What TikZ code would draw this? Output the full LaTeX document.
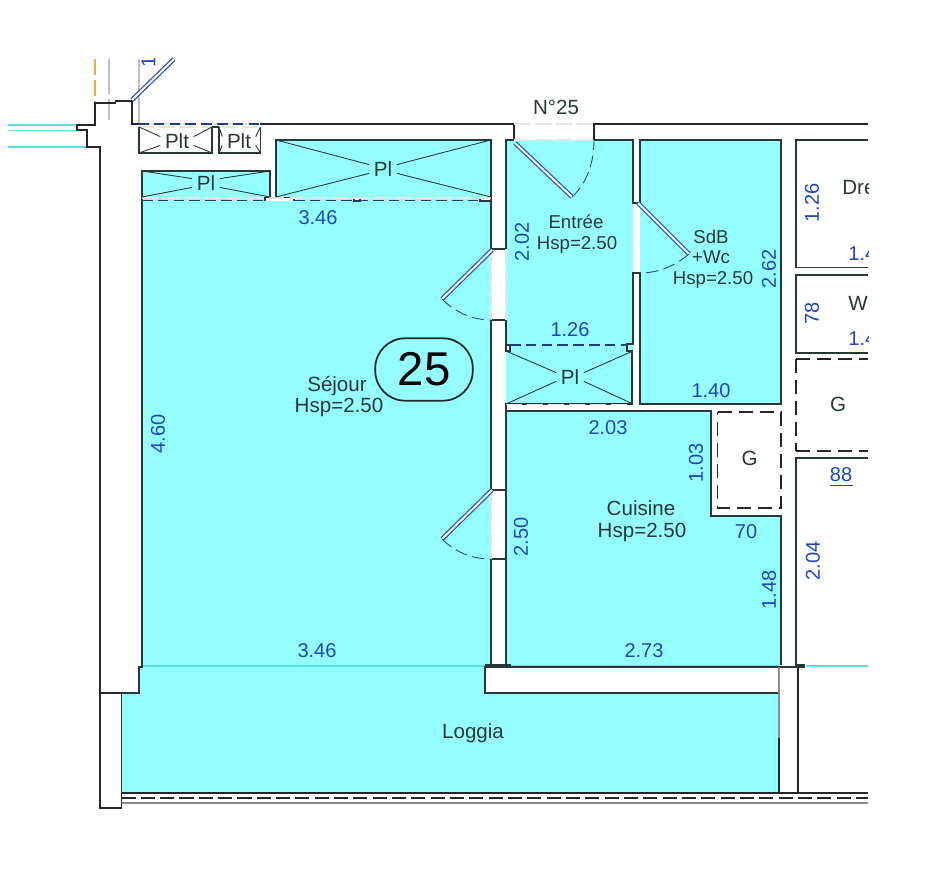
\documentclass[tikz,border=0pt]{standalone}
\usepackage{xcolor}
\usepackage{fontspec}
\setmainfont{Liberation Sans}
\usepackage{tikz}
\definecolor{roomcyan}{HTML}{95FFFF}
\definecolor{glasscyan}{HTML}{5FDCDC}
\definecolor{walldark}{HTML}{263838}
\definecolor{dimblue}{HTML}{1F45C0}
\definecolor{leafblue}{HTML}{2F55C0}
\tikzset{
    wall/.style={draw=walldark, line width=0.85pt},
    wallblack/.style={draw=black!85, line width=0.85pt},
    xline/.style={draw=walldark, line width=0.5pt},
    glass/.style={draw=glasscyan, line width=0.7pt},
    edgegray/.style={draw=black!10, line width=0.7pt, dash pattern=on 9pt off 3pt},
    edgeblue/.style={draw=leafblue!70!black, line width=0.6pt, dash pattern=on 6pt off 3pt},
    hidden/.style={draw=black!85, line width=0.65pt, dash pattern=on 8pt off 4pt},
    leaf/.style={draw=leafblue, line width=0.75pt, double=white, double distance=1.1pt},
    swing/.style={draw=leafblue!80!black, line width=0.5pt, dash pattern=on 7pt off 3pt},
    room/.style={font=\fontsize{11.7}{13}\selectfont, text=walldark, inner sep=0pt},
    roomsmall/.style={font=\fontsize{10.6}{12}\selectfont, text=walldark, inner sep=0pt},
    fix/.style={font=\fontsize{11.7}{13}\selectfont, text=walldark, inner xsep=2.5pt, inner ysep=1.5pt},
    dim/.style={font=\fontsize{11.4}{13}\selectfont, text=dimblue, inner sep=0pt},
    dimup/.style={dim, rotate=90},
}
\begin{document}
\begin{tikzpicture}[x=0.02cm, y=-0.02cm]
    \useasboundingbox (0,0) rectangle (942,878);

    % rooms
    \fill[roomcyan] (142,171) rectangle (270,197);
    \fill[roomcyan] (276,140) rectangle (491,197);
    \fill[roomcyan] (142,197) -- (491,197) -- (491,665) -- (485,667) -- (485,693) -- (779,693) -- (779,793)
        -- (121.5,793) -- (121.5,693) -- (139,693) -- (139,667) -- (142,665) -- cycle;
    \fill[roomcyan] (506,140) rectangle (633,404);
    \fill[roomcyan] (640,140) rectangle (781,404);
    \fill[roomcyan] (506,411) -- (711,411) -- (711,516) -- (781,516) -- (781,666) -- (506,666) -- cycle;

    % glass
    \draw[glass] (8,125) -- (77,125);
    \draw[glass] (8,130.5) -- (77,130.5);
    \draw[glass] (8,147) -- (87,147);
    \draw[glass, line width=1pt] (142,666) -- (485,666);
    \draw[glass, line width=1pt] (511,666) -- (778,666);
    \draw[glass, line width=1.4pt] (806,666) -- (868,666);

    % axes at top left
    \draw[draw=orange!70, line width=0.7pt, dash pattern=on 9pt off 3pt] (95,59) -- (95,103);
    \draw[draw=black!25, line width=0.7pt, dash pattern=on 20pt off 3pt] (109,59) -- (109,120);
    \draw[draw=black!25, line width=0.7pt] (139,59) -- (139,124);

    % outer walls
    \draw[wallblack] (100,693) -- (100,147) -- (87,147) -- (87,130) -- (77,130) -- (77,125) -- (95,125)
        -- (95,103) -- (115.5,103) -- (115.5,101) -- (132,101) -- (132,124) -- (139,124);
    \draw[wallblack] (260,124) -- (514,124) -- (514,140);
    \draw[wallblack] (594,140) -- (594,124) -- (868,124);
    \draw[wallblack] (100,693) -- (100,808) -- (121.5,808) -- (121.5,793);
    \draw[wallblack] (139,693) -- (100,693);
    \draw[wallblack] (121.5,793) -- (868,793);
    \draw[wallblack, dash pattern=on 8pt off 3pt] (121.5,798) -- (868,798);
    \draw[draw=black!45, line width=0.85pt] (121.5,803) -- (868,803);

    % inner walls
    \draw[wall] (121.5,793) -- (121.5,693) -- (139,693) -- (139,667) -- (142,667) -- (142,171) -- (270,171) -- (270,197);
    \draw[wall] (276,197) -- (276,140) -- (491,140) -- (491,249) -- (506,249) -- (506,140) -- (514,140);
    \draw[wall] (491,490) -- (491,320) -- (506,320) -- (506,345);
    \draw[wall] (491,490) -- (506,490) -- (506,404) -- (633,404);
    \draw[wall] (506,559) -- (491,559) -- (491,665);
    \draw[wall] (506,559) -- (506,411) -- (711,411) -- (711,516) -- (781,516) -- (781,665);
    \draw[wall] (506,559) -- (506,665);
    \draw[wall, fill=white] (485,667) rectangle (779,693);
    \draw[wall] (485,665) -- (511,665);
    \draw[wall] (594,140) -- (633,140) -- (633,203) -- (640,203) -- (640,140) -- (781,140) -- (781,404) -- (640,404)
        -- (640,273) -- (633,273) -- (633,344) -- (627,344) -- (627,351) -- (632,351) -- (632,404);
    \draw[wall, fill=white] (506,345) rectangle (510,351);
    \fill[white] (265,197.5) rectangle (294,201);
    \draw[wall] (265,201) -- (265,197.5) -- (270,197.5);
    \draw[wall] (276,197.5) -- (294,197.5) -- (294,201);
    \draw[wall, fill=white] (354,197.5) rectangle (360,201);
    \draw[wall, fill=white] (480,201) -- (480,197.5) -- (491,197.5) -- (491,201) -- cycle;
    \draw[wall] (868,140) -- (796,140) -- (796,267.5) -- (868,267.5);
    \draw[wall] (868,275) -- (796,275) -- (796,353) -- (868,353);
    \draw[wall] (868,458) -- (796,458) -- (796,665) -- (805,665);
    \draw[wall] (778,667) -- (805,667);
    \draw[draw=black!45, line width=0.85pt] (779,667) -- (779,738);
    \draw[wallblack] (779,738) -- (779,793);
    \draw[wallblack] (798,667) -- (798,793);

    % dashed edges
    \draw[edgegray] (138,127) -- (260,127);
    \draw[edgegray] (138,124) -- (260,124);
    \draw[edgeblue] (138,124) -- (260,124);
    \draw[edgegray] (514,124) -- (594,124);
    \draw[edgegray] (514,140) -- (594,140);
    \draw[edgegray] (142,198) -- (491,198);
    \draw[edgeblue] (142,200.5) -- (265,200.5);
    \draw[edgeblue] (294,200.5) -- (480,200.5);
    \draw[edgeblue] (510,345) -- (627,345);
    \draw[edgegray] (506,404.5) -- (633,404.5);
    \draw[edgegray] (491,249) -- (491,320);
    \draw[edgegray] (506,249) -- (506,320);
    \draw[edgegray] (491,490) -- (491,559);
    \draw[hidden] (717.5,412) -- (781,412) -- (781,508) -- (717.5,508) -- (717.5,412);
    \draw[hidden] (796,359) -- (796,451);
    \draw[hidden] (796,359) -- (868,359);
    \draw[hidden] (796,451) -- (868,451);

    % closets
    \draw[wall] (212,127) -- (212,153) -- (139,153) -- (139,127);
    \draw[wall] (212,127) -- (219,127);
    \draw[wall] (219,127) -- (219,153) -- (260.5,153) -- (260.5,127);

    \node[fix] (pltA) at (177,141) {Plt};
    \node[fix] (pltB) at (239,141) {Plt};
    \node[fix] (plA) at (206,183) {Pl};
    \node[fix] (plB) at (383,169) {Pl};
    \node[fix] (plC) at (570,377) {Pl};
    \foreach \pl/\xa/\ya/\xb/\yb in {pltA/139/127/212/153, pltB/219/127/260.5/153, plA/142/171/270/197,
        plB/276/140/491/197, plC/506/351/633/404} {
        \draw[xline] (\xa,\ya) -- ([yshift=2.5pt]\pl.west);
        \draw[xline] (\xa,\yb) -- ([yshift=-2.5pt]\pl.west);
        \draw[xline] (\xb,\ya) -- ([yshift=2.5pt]\pl.east);
        \draw[xline] (\xb,\yb) -- ([yshift=-2.5pt]\pl.east);
    }

    % doors
    \draw[leaf] (132,100) -- (174,59);
    \draw[leaf] (515,143) -- (572,197);
    \draw[swing] (572,197) .. controls (586,184) and (594,164) .. (594,140);
    \draw[leaf] (492,250) -- (442,299);
    \draw[swing] (442,299) .. controls (455,312) and (472,320) .. (491,320);
    \draw[leaf] (492,490) -- (442,539);
    \draw[swing] (442,539) .. controls (455,552) and (472,559) .. (491,559);
    \draw[leaf] (638,203) -- (689,254);
    \draw[swing] (689,254) .. controls (675,266) and (658,273) .. (640,273);

    % room names
    \node[room] (sejour) at (337,386) {Séjour};
    \node[room] (sejourH) at (339,407) {Hsp=2.50};
    \node[draw=black!85, line width=1pt, rounded corners=17pt, minimum width=55.5pt, minimum height=35.5pt,
        font=\fontsize{27}{30}\selectfont, inner sep=0pt] (lot) at (424,369.5) {25};
    \node[roomsmall] (entree) at (576,222) {Entrée};
    \node[roomsmall] (entreeH) at (577,245) {Hsp=2.50};
    \node[roomsmall] (sdb) at (711,236.5) {SdB};
    \node[roomsmall] (wc) at (711,257) {+Wc};
    \node[roomsmall] (sdbH) at (713,279.5) {Hsp=2.50};
    \node[room] (cuisine) at (641,508) {Cuisine};
    \node[room] (cuisineH) at (642,532) {Hsp=2.50};
    \node[room] (loggia) at (473,733) {Loggia};
    \node[room] (palier) at (556,107) {N°25};
    \node[room] (gA) at (749.5,458) {G};
    \node[room] (gB) at (838,404) {G};

    % dimensions
    \node[dim] (sejourT) at (318,218) {3.46};
    \node[dimup] (sejourL) at (158,434) {4.60};
    \node[dim] (sejourB) at (317,651) {3.46};
    \node[dimup] (entreeL) at (522,242) {2.02};
    \node[dim] (entreeB) at (570,330) {1.26};
    \node[dimup] (cuisineL) at (521,537) {2.50};
    \node[dim] (cuisineT) at (608,428) {2.03};
    \node[dimup] (cuisineG) at (696,463) {1.03};
    \node[dim] (cuisineN) at (746,532) {70};
    \node[dimup] (cuisineR) at (769,590) {1.48};
    \node[dim] (cuisineB) at (644,651) {2.73};
    \node[dimup] (sdbR) at (769,269) {2.62};
    \node[dim] (sdbB) at (711,391) {1.40};
    \node[dimup] (dresL) at (812,203) {1.26};
    \node[dimup] (wL) at (812,313) {78};
    \node[dimup] (nextL) at (813,561) {2.04};
    \node[dim] (nextT) at (841,475) {88};
    \draw[draw=dimblue, line width=0.55pt] (830,485) -- (853,485);

    % texts cut at the sheet edges
    \begin{scope}
        \clip (120,59) rectangle (868,800);
        \node[dimup] (doorN) at (148.5,62) {1};
        \node[room, anchor=west] (dres) at (842,188) {Dre};
        \node[dim, anchor=west] (dresB) at (848,254) {1.4};
        \node[room, anchor=west] (wNext) at (848,303) {W};
        \node[dim, anchor=west] (wB) at (848,339) {1.4};
    \end{scope}
\end{tikzpicture}
\end{document}
